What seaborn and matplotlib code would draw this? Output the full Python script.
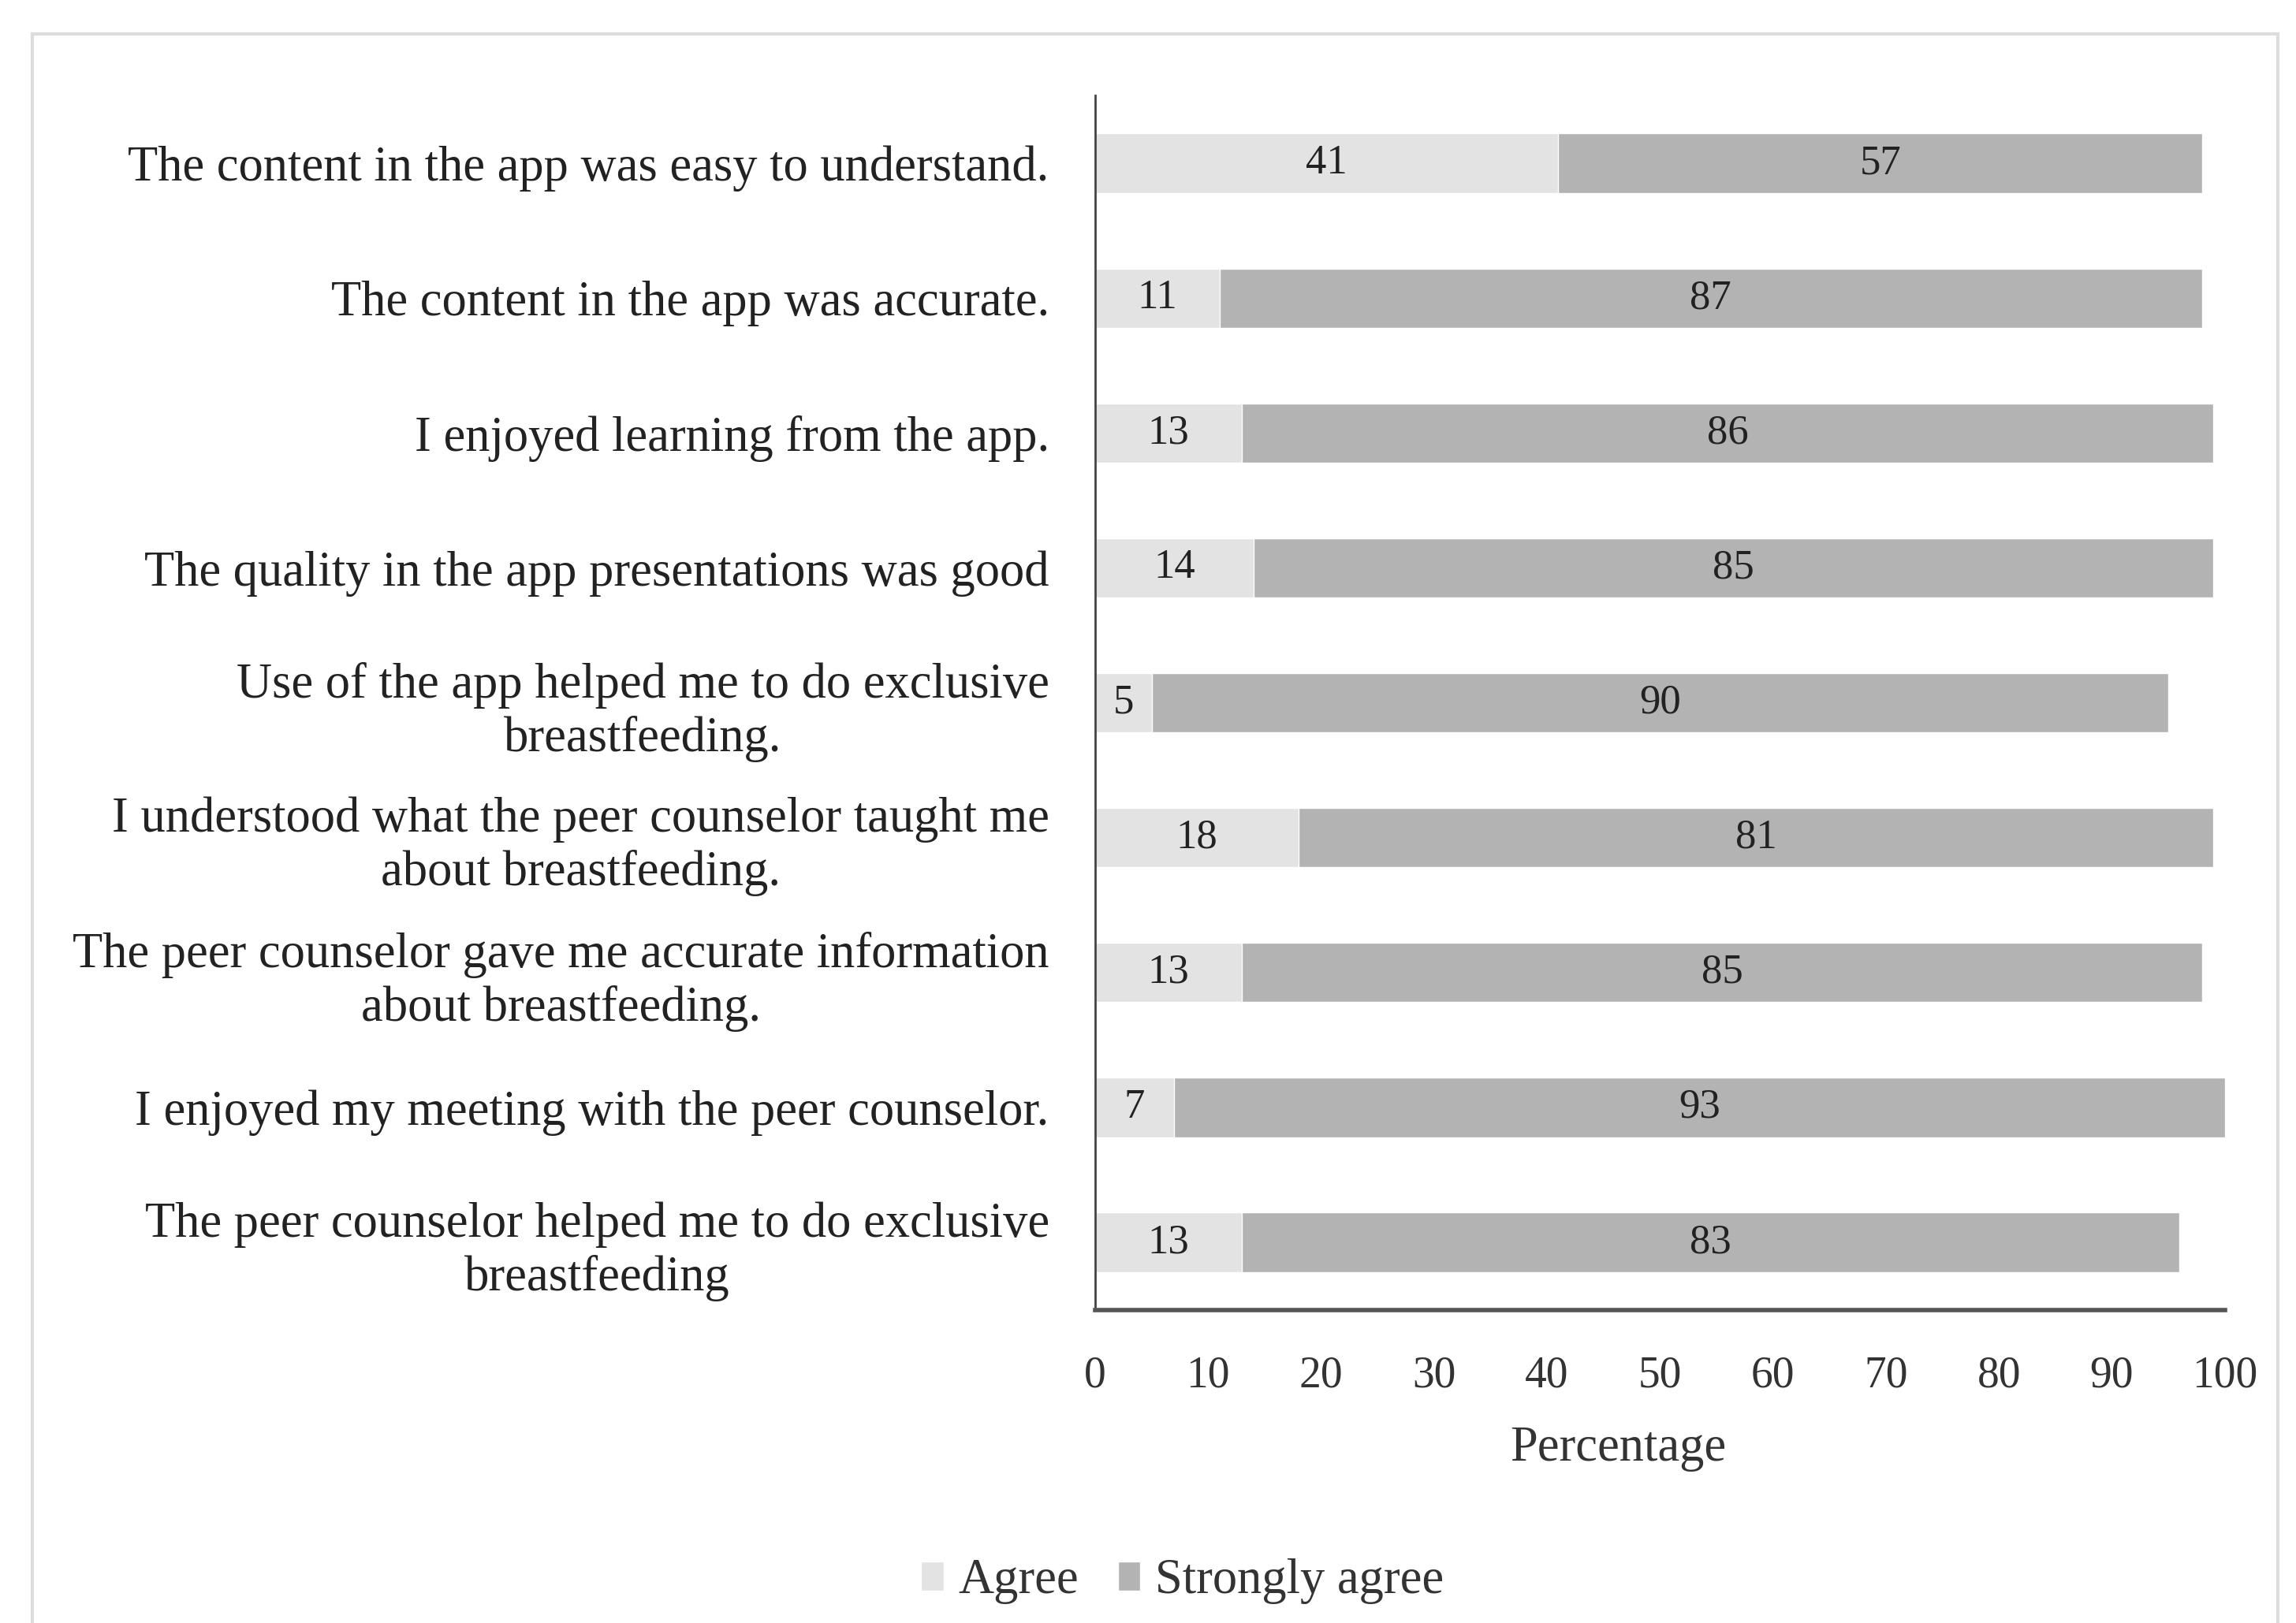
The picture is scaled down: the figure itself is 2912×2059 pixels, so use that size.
import matplotlib.pyplot as plt
import seaborn as sns
import pandas as pd
from matplotlib.patches import Patch, Rectangle

enunciados = [
    "The content in the app was easy to understand.",
    "The content in the app was accurate.",
    "I enjoyed learning from the app.",
    "The quality in the app presentations was good",
    "Use of the app helped me to do exclusive\nbreastfeeding.",
    "I understood what the peer counselor taught me\nabout breastfeeding.",
    "The peer counselor gave me accurate information\nabout breastfeeding.",
    "I enjoyed my meeting with the peer counselor.",
    "The peer counselor helped me to do exclusive\nbreastfeeding",
]
agree = [41, 11, 13, 14, 5, 18, 13, 7, 13]
strongly_agree = [57, 87, 86, 85, 90, 81, 85, 93, 83]
x_ticks = [0, 10, 20, 30, 40, 50, 60, 70, 80, 90, 100]

color_agree = "#E3E3E3"
color_strong = "#B3B3B3"

sns.set_style("white")
plt.rcParams['font.family'] = ['Liberation Serif', 'DejaVu Serif']

df = pd.DataFrame({
    "enunciado": enunciados,
    "agree": agree,
    "strong": strongly_agree,
})
df["total"] = df["agree"] + df["strong"]

fig = plt.figure(figsize=(29.12, 20.59), dpi=100)
ax = fig.add_axes([0.477, 0.193, 0.492, 0.748])

# barras apiladas: total oscuro debajo, "agree" claro encima
sns.barplot(data=df, y="enunciado", x="total", color=color_strong,
            orient="h", width=0.44, saturation=1, ax=ax)
sns.barplot(data=df, y="enunciado", x="agree", color=color_agree,
            orient="h", width=0.44, saturation=1, ax=ax)

for i, fila in df.iterrows():
    ax.text(fila["agree"] / 2, i, str(fila["agree"]), ha="center",
            va="center", fontsize=38, color="#222222")
    ax.text(fila["agree"] + fila["strong"] / 2, i, str(fila["strong"]),
            ha="center", va="center", fontsize=38, color="#222222")

ax.set_xlim(0, 100)
ax.set_ylim(len(enunciados) - 0.5, -0.5)
ax.set_xticks(x_ticks)
ax.set_xticklabels([str(t) for t in x_ticks])
ax.tick_params(axis="x", length=0, pad=42, labelsize=40, labelcolor="#333333")
ax.tick_params(axis="y", length=0, pad=42, labelsize=45, labelcolor="#222222")
for lbl in ax.get_yticklabels():
    lbl.set_multialignment("center")

ax.set_ylabel("")
ax.set_xlabel("Percentage", fontsize=45, color="#333333")
ax.xaxis.set_label_coords(0.463, -0.096)

sns.despine(ax=ax, top=True, right=True)
ax.spines["left"].set_color("#444444")
ax.spines["left"].set_linewidth(2)
ax.spines["bottom"].set_color("#555555")
ax.spines["bottom"].set_linewidth(4)

handles = [Patch(facecolor=color_agree, label="Agree"),
           Patch(facecolor=color_strong, label="Strongly agree")]
fig.legend(handles=handles, loc="center", bbox_to_anchor=(0.515, 0.0255),
           ncol=2, frameon=False, fontsize=45, handlelength=0.45,
           handleheight=0.55, handletextpad=0.3, columnspacing=0.8,
           labelcolor="#333333")

# marco tenue alrededor del gráfico
fig.patches.append(Rectangle((0.014, -0.05), 0.978, 1.029,
                             transform=fig.transFigure, fill=False,
                             edgecolor="#DDDDDD", linewidth=3))

fig.savefig("out.png", dpi=100)
